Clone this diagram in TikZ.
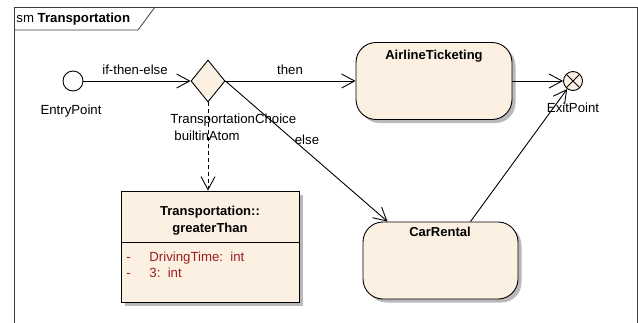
\documentclass[tikz,border=0pt]{standalone}
\usepackage{fontspec}
\setmainfont{Liberation Sans}
\usetikzlibrary{arrows.meta,shapes.geometric,shadows}
\definecolor{fillc}{RGB}{251,240,226}
\definecolor{attrc}{RGB}{155,30,30}
\definecolor{shadowc}{RGB}{185,185,185}
\definecolor{framec}{RGB}{60,60,60}
\begin{document}
\begin{tikzpicture}[x=1pt,y=-1pt,
  font=\fontsize{13.2}{15}\selectfont,
  line width=0.9pt,
  arr/.style={-{Straight Barb[length=13pt,width=14pt,line width=0.9pt]}},
  txt/.style={inner sep=0pt,anchor=base},
  bfont/.style={font=\fontsize{13}{15}\selectfont\bfseries},
  shad/.style={drop shadow={shadow xshift=3.5pt,shadow yshift=-3.5pt,fill=shadowc,opacity=1}},
  statebox/.style={draw,fill=fillc,rounded corners=20pt,inner sep=0pt,shad},
  pseudo/.style={draw,circle,inner sep=0pt}
]
\useasboundingbox (0,0) rectangle (638,322);
% frame
\draw[framec,line width=0.8pt] (14,330) -- (14,7) -- (637,7) -- (637,330);
\draw[framec,line width=0.8pt] (14,30) -- (138,30) -- (155,7);
\node[txt,anchor=base west] (title) at (16,22) {sm \textbf{Transportation}};

% nodes
\node[pseudo,minimum size=20pt,fill=white] (entry) at (73,81) {};
\node[txt] (entrylbl) at (71,114) {EntryPoint};

\node[draw,diamond,fill=fillc,minimum width=34pt,minimum height=42pt,inner sep=0pt] (dec) at (208,81) {};
\node[txt,anchor=base west] (declbl) at (170,123) {TransportationChoice};
\node[txt,anchor=base west] (decst) at (174,140) {builtinAtom};

\node[statebox,minimum width=156pt,minimum height=77pt] (air) at (434,81) {};
\node[txt,bfont] (airlbl) at (434,59) {AirlineTicketing};

\node[statebox,minimum width=155pt,minimum height=77pt] (car) at (440.5,260.5) {};
\node[txt,bfont] (carlbl) at (440,236) {CarRental};

\node[pseudo,minimum size=19pt,fill=fillc,
  path picture={\draw (path picture bounding box.south west) -- (path picture bounding box.north east)
                      (path picture bounding box.north west) -- (path picture bounding box.south east);}] (exit) at (573,81) {};
\node[txt] (exitlbl) at (573,112) {ExitPoint};

\node[draw,fill=fillc,minimum width=178pt,minimum height=111pt,inner sep=0pt,shad] (cls) at (210,246.5) {};
\draw ([yshift=-52pt]cls.north west) -- ([yshift=-52pt]cls.north east);
\node[txt,bfont] (clst1) at (210,215) {Transportation::};
\node[txt,bfont] (clst2) at (210,232) {greaterThan};
\node[txt,anchor=base west,text=attrc] (a1d) at (126,261) {-};
\node[txt,anchor=base west,text=attrc] (a1) at (149,261) {DrivingTime:\ \ int};
\node[txt,anchor=base west,text=attrc] (a2d) at (126,277) {-};
\node[txt,anchor=base west,text=attrc] (a2) at (149,277) {3:\ \ int};

% connectors
\draw[arr] (entry) -- (dec.west);
\node[txt] (l1) at (135,74) {if-then-else};
\draw[arr] (dec.east) -- (air.west |- dec.east);
\node[txt] (l2) at (290,74) {then};
\draw[arr] (dec.east) -- ([xshift=25pt]car.north west);
\node[txt] (l3) at (307,144) {else};
\draw[arr] (air.east) -- (exit);
\draw[arr] ([xshift=30pt]car.north) -- (exit);
\draw[arr,dash pattern=on 4pt off 3pt] (dec.south) -- (dec.south |- cls.north);
\end{tikzpicture}
\end{document}
